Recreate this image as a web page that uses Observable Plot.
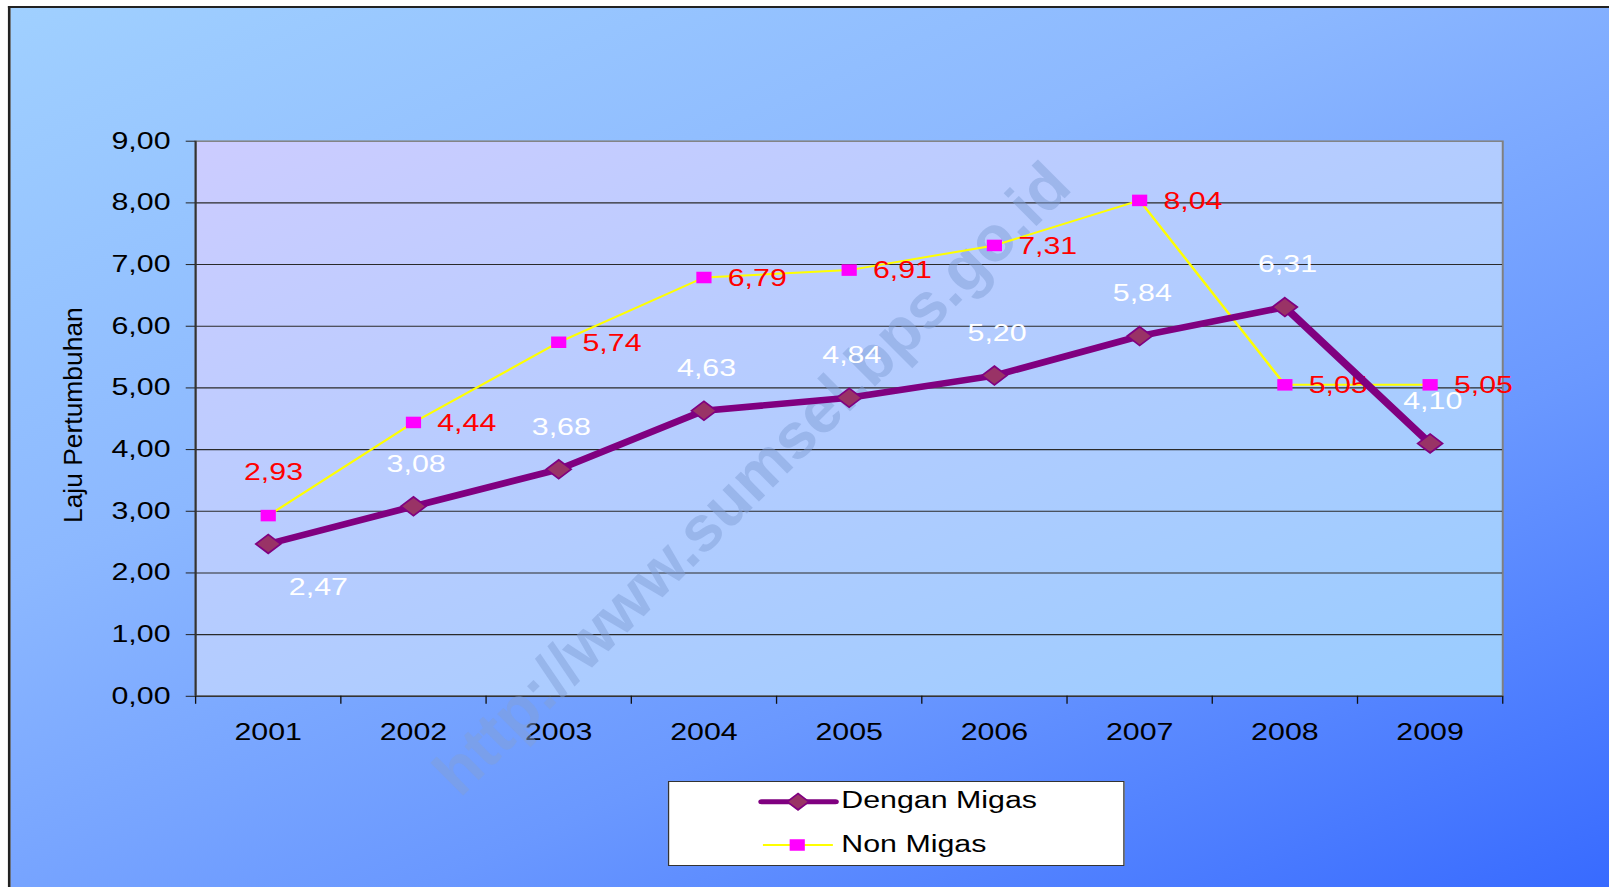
<!DOCTYPE html>
<html>
<head>
<meta charset="utf-8">
<script src="https://cdn.jsdelivr.net/npm/d3@7"></script>
<script src="https://cdn.jsdelivr.net/npm/@observablehq/plot@0.6"></script>
<style>
  html, body { margin: 0; padding: 0; background: #fff; width: 1609px; height: 887px; overflow: hidden; }
  #wrap { position: absolute; left: 0; top: 0; width: 1219px; height: 887px; transform: scaleX(1.31993); transform-origin: 0 0; font-family: "Liberation Sans", Arial, sans-serif; }
  #bg { position: absolute; left: 6px; top: 6px; width: 1260px; height: 900px; border-left: 2px solid #222; border-top: 2px solid #222;
        background: linear-gradient(150deg, #a0d0ff 0%, #8cb8ff 35%, #6a98ff 65%, #3366ff 100%); }
  #chart { position: absolute; left: 0; top: 0; }
  #legend { position: absolute; left: 506px; top: 781px; width: 344px; height: 83px; background: #fff; border: 1px solid #333; }
</style>
</head>
<body>
<div id="wrap">
  <div id="bg"></div>
  <div id="chart"></div>
  <div id="legend"></div>
</div>
<script>
// ---- data ----
const years = [2001, 2002, 2003, 2004, 2005, 2006, 2007, 2008, 2009];
const denganMigas = [2.47, 3.08, 3.68, 4.63, 4.84, 5.20, 5.84, 6.31, 4.10];
const nonMigas = [2.93, 4.44, 5.74, 6.79, 6.91, 7.31, 8.04, 5.05, 5.05];
const yTicks = [0, 1, 2, 3, 4, 5, 6, 7, 8, 9];
const seriesNames = ["Dengan Migas", "Non Migas"];
const yTitle = "Laju Pertumbuhan";
const watermarkText = "http://www.sumsel.bps.go.id";

// ---- derived tables ----
const rowsD = years.map((year, i) => ({year, value: denganMigas[i]}));
const rowsN = years.map((year, i) => ({year, value: nonMigas[i]}));
const fmt = v => v.toFixed(2).replace(".", ",");
const xMin = years[0] - 0.5, xMax = years[years.length - 1] + 0.5;
const bounds = years.map(y => y - 0.5).concat([xMax]);
const gridVals = yTicks.filter(v => v > yTicks[0] && v < yTicks[yTicks.length - 1]);

const STRETCH = 1609 / 1219;
const PURPLE = "#800080", DIAMOND = "#993366", YELLOW = "#ffff00", MAGENTA = "#ff00ff";

const plot = Plot.plot({
  width: 1219,
  height: 887,
  marginLeft: 147.7,
  marginRight: 81,
  marginTop: 140.7,
  marginBottom: 191.2,
  style: {background: "transparent", fontFamily: "'Liberation Sans', Arial, sans-serif", fontSize: "23px", color: "#000", overflow: "visible"},
  x: {type: "linear", domain: [xMin, xMax], label: null},
  y: {domain: [yTicks[0], yTicks[yTicks.length - 1]], label: null},
  marks: [
    Plot.frame({fill: "url(#plotBg)", stroke: "#808080", strokeWidth: 1.5}),
    Plot.ruleY(gridVals, {stroke: "#2a2a2a", strokeWidth: 1.1}),
    Plot.ruleX([xMin], {stroke: "#333", strokeWidth: 1.5}),
    Plot.ruleY([yTicks[0]], {stroke: "#333", strokeWidth: 1.5}),
    Plot.axisY(yTicks, {tickSize: 7, tickPadding: 12, tickFormat: fmt, fontSize: 23, stroke: "#222", label: null}),
    Plot.axisX(years, {tickSize: 0, tickPadding: 27.5, tickFormat: d => String(d), fontSize: 23, label: null}),
    Plot.axisX(bounds, {tickSize: 8, tickFormat: () => "", fill: "none", stroke: "#111", label: null}),
    Plot.text([yTitle], {text: d => d, frameAnchor: "left", textAnchor: "middle", dx: -92.5, dy: -3.6, rotate: -90, fontSize: 19, fill: "#000"}),
    // Non Migas
    Plot.line(rowsN, {x: "year", y: "value", stroke: YELLOW, strokeWidth: 2}),
    Plot.dot(rowsN, {x: "year", y: "value", symbol: "square", r: 6.5, fill: MAGENTA, stroke: null}),
    Plot.text(rowsN.slice(0, 1), {x: "year", y: "value", text: d => fmt(d.value), dx: 4, dy: -43, fill: "#ff0000", fontSize: 23}),
    Plot.text(rowsN.slice(1), {x: "year", y: "value", text: d => fmt(d.value), textAnchor: "start", dx: 18, dy: 1, fill: "#ff0000", fontSize: 23}),
    // Dengan Migas
    Plot.line(rowsD, {x: "year", y: "value", stroke: PURPLE, strokeWidth: 6.5, strokeLinejoin: "round"}),
    Plot.dot(rowsD, {x: "year", y: "value", symbol: "diamond2", r: 8.5, fill: DIAMOND, stroke: PURPLE, strokeWidth: 1.5}),
    Plot.text(rowsD.slice(0, 1), {x: "year", y: "value", text: d => fmt(d.value), dx: 38, dy: 44, fill: "#ffffff", fontSize: 23}),
    Plot.text(rowsD.slice(1), {x: "year", y: "value", text: d => fmt(d.value), dx: 2, dy: -42, fill: "#ffffff", fontSize: 23})
  ]
});

const svg = d3.select(plot);

// gradient for plot area
const defs = svg.insert("defs", ":first-child");
const grad = defs.append("linearGradient").attr("id", "plotBg").attr("x1", 0).attr("y1", 0).attr("x2", 1).attr("y2", 1);
grad.append("stop").attr("offset", "0%").attr("stop-color", "#ccccff");
grad.append("stop").attr("offset", "100%").attr("stop-color", "#99ccff");

// the reference's axis title is drawn elongated along its reading direction
svg.selectAll("text").filter(function() { return this.textContent === yTitle; })
  .attr("transform", function() { return (this.getAttribute("transform") || "") + " scale(1.39,1)"; });

// watermark: beneath the data marks, un-stretched and rotated
svg.insert("text", 'g[aria-label="line"]')
  .attr("transform", `translate(${751 / STRETCH},478) scale(${1 / STRETCH},1) rotate(-44.8)`)
  .attr("text-anchor", "middle")
  .attr("dy", "0.35em")
  .attr("font-size", 64)
  .attr("font-weight", "bold")
  .attr("fill", "rgb(130,160,215)")
  .attr("fill-opacity", 0.5)
  .text(watermarkText);

document.getElementById("chart").appendChild(plot);

// legend
const lg = d3.select("#legend").append("svg").attr("width", 344).attr("height", 83)
  .style("font-family", "'Liberation Sans', Arial, sans-serif");
// Dengan Migas
lg.append("line").attr("x1", 70).attr("x2", 126).attr("y1", 19.7).attr("y2", 19.7)
  .attr("stroke", PURPLE).attr("stroke-width", 5).attr("stroke-linecap", "round");
lg.append("path").attr("d", d3.symbol(d3.symbolDiamond2, 171)()).attr("transform", "translate(97.6,19.7)")
  .attr("fill", DIAMOND).attr("stroke", PURPLE).attr("stroke-width", 1.5);
lg.append("text").attr("x", 130.4).attr("y", 26.5).attr("font-size", 23).text(seriesNames[0]);
// Non Migas
lg.append("line").attr("x1", 71).attr("x2", 124).attr("y1", 63).attr("y2", 63)
  .attr("stroke", YELLOW).attr("stroke-width", 2);
lg.append("path").attr("d", d3.symbol(d3.symbolSquare, 132)()).attr("transform", "translate(97,63)")
  .attr("fill", MAGENTA);
lg.append("text").attr("x", 130.4).attr("y", 70).attr("font-size", 23).text(seriesNames[1]);
</script>
</body>
</html>
